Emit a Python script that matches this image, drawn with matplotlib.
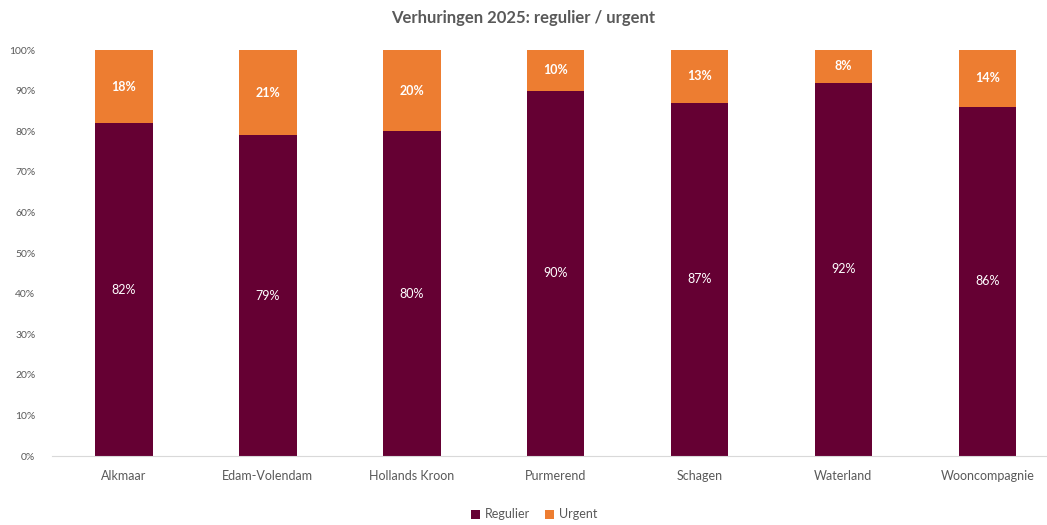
import matplotlib
matplotlib.use("Agg")
import matplotlib.pyplot as plt
import numpy as np
from matplotlib.ticker import PercentFormatter

plt.rcParams['font.family'] = ['Lato', 'DejaVu Sans']

# data
regios = ['Alkmaar', 'Edam-Volendam', 'Hollands Kroon', 'Purmerend',
          'Schagen', 'Waterland', 'Wooncompagnie']
regulier = [82, 79, 80, 90, 87, 92, 86]
urgent = [18, 21, 20, 10, 13, 8, 14]

kleur_regulier = '#650033'
kleur_urgent = '#ED7D31'
grijs = '#595959'

fig = plt.figure(figsize=(10.47, 5.25), dpi=100)
ax = fig.add_axes([0.0497, 0.1314, 0.962, 0.7733])

x = np.arange(len(regios))
b1 = ax.bar(x, regulier, width=0.4, color=kleur_regulier, label='Regulier')
b2 = ax.bar(x, urgent, width=0.4, bottom=regulier, color=kleur_urgent, label='Urgent')

for xi, r, u in zip(x, regulier, urgent):
    ax.text(xi, r / 2, f'{r}%', ha='center', va='center', color='white', fontsize=9)
    ax.text(xi, r + u / 2, f'{u}%', ha='center', va='center', color='white',
            fontsize=9, fontweight='bold')

ax.set_xlim(-0.5, len(regios) - 0.5)
ax.set_ylim(0, 100)
ax.set_yticks(range(0, 101, 10))
ax.yaxis.set_major_formatter(PercentFormatter(decimals=0))
ax.set_xticks(x)
ax.set_xticklabels(regios)
ax.tick_params(axis='y', length=0, labelsize=7.5, colors=grijs, pad=12)
ax.tick_params(axis='x', length=0, labelsize=9, colors=grijs, pad=10)

for s in ['top', 'right', 'left']:
    ax.spines[s].set_visible(False)
ax.spines['bottom'].set_color('#D9D9D9')

fig.text(0.5, 0.965, 'Verhuringen 2025: regulier / urgent', ha='center', va='center',
         fontsize=12, fontweight='bold', color=grijs)

fig.legend(handles=[b1, b2], loc='center', bbox_to_anchor=(0.51, 0.02), ncol=2,
           frameon=False, fontsize=9, labelcolor=grijs, handlelength=0.7,
           handleheight=0.7, columnspacing=1.2, handletextpad=0.4)

fig.savefig('out.png', dpi=100)
